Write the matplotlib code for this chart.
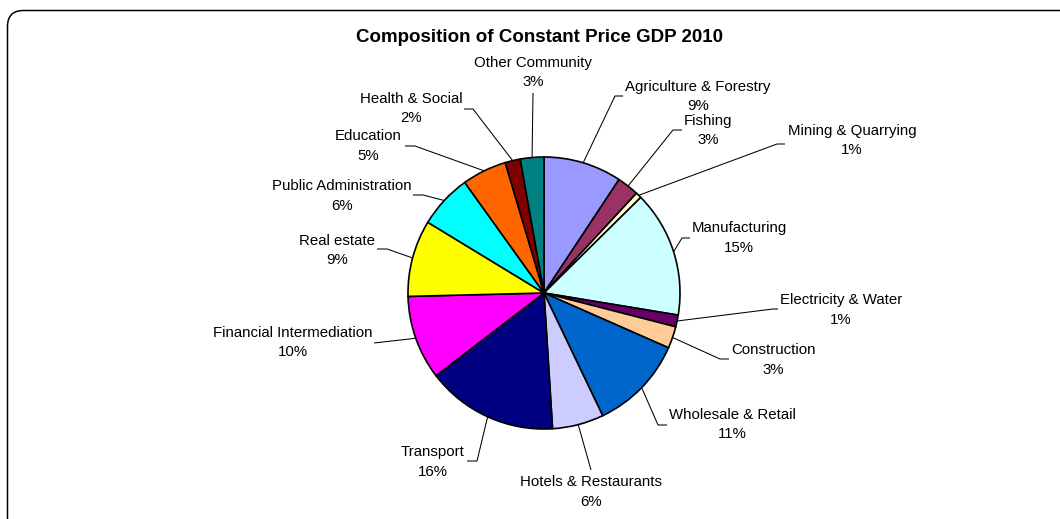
import matplotlib
matplotlib.use('Agg')
import matplotlib.pyplot as plt
from matplotlib.patches import FancyBboxPatch
import numpy as np

plt.rcParams['font.family'] = ['Liberation Sans', 'DejaVu Sans']

# sector shares of constant price GDP 2010 (percent)
sectors = ['Agriculture & Forestry', 'Fishing', 'Mining & Quarrying', 'Manufacturing',
           'Electricity & Water', 'Construction', 'Wholesale & Retail',
           'Hotels & Restaurants', 'Transport', 'Financial Intermediation',
           'Real estate', 'Public Administration', 'Education', 'Health & Social',
           'Other Community']
shares = [9.3, 2.6, 0.7, 15.0, 1.4, 2.6, 11.3, 6.1, 15.6, 10.0, 9.1, 6.4, 5.3, 1.8, 2.8]
colors = ['#9999FF', '#993366', '#FFFFCC', '#CCFFFF', '#660066', '#FFCC99', '#0066CC',
          '#CCCCFF', '#000080', '#FF00FF', '#FFFF00', '#00FFFF', '#FF6600', '#800000',
          '#008080']

W, H = 1060, 519
# label layout in pixels: text centre (x, y of first line), elbow point, end of leader
label_xy = [(698, 87), (708, 121), (852, 131), (739, 228), (841, 300), (773, 350),
            (732, 415), (591, 482), (433, 452), (293, 333), (337, 241), (342, 186),
            (368, 136), (411, 99), (533, 63)]
elbows = [(615, 96), (673, 130), (777, 144), (682, 238), (773, 309), (720, 359),
          (658, 425), (591, 470), (477, 461), (374, 343), (387, 249), (423, 195),
          (415, 146), (473, 109), (533, 93)]
ends = [(623, 96), (682, 130), (785, 144), (690, 238), (778, 309), (729, 359),
        (667, 425), (591, 470), (467, 461), (374, 343), (377, 249), (413, 195),
        (405, 146), (464, 109), (533, 93)]

cx, cy, r = 544, 293, 136

fig = plt.figure(figsize=(W / 100, H / 100), dpi=100)
ax = fig.add_axes([0, 0, 1, 1])

wedges, _ = ax.pie(shares, colors=colors, startangle=90, counterclock=False,
                   center=(cx, H - cy), radius=r,
                   wedgeprops=dict(edgecolor='black', linewidth=1.2))
ax.set_xlim(0, W)
ax.set_ylim(0, H)
ax.set_aspect('equal')
ax.axis('off')

total = sum(shares)
for w, name, v, (lx, ly), (ex, ey), (tx, ty) in zip(wedges, sectors, shares,
                                                     label_xy, elbows, ends):
    mid = np.deg2rad((w.theta1 + w.theta2) / 2)
    ax0 = cx + r * np.cos(mid)
    ay0 = (H - cy) + r * np.sin(mid)
    ax.plot([ax0, ex, tx], [ay0, H - ey, H - ty], color='black', lw=0.75,
            solid_capstyle='butt')
    ax.text(lx, H - ly, name, ha='center', va='center', fontsize=10.8)
    ax.text(lx, H - ly - 19.5, f'{round(v / total * 100):.0f}%', ha='center',
            va='center', fontsize=10.8)

ax.text(540, H - 37, 'Composition of Constant Price GDP 2010', ha='center',
        va='center', fontsize=13.5, fontweight='bold')

border = FancyBboxPatch((7.5, -30), 1100, H - 10.5 + 30,
                        boxstyle='round,pad=0,rounding_size=16',
                        facecolor='none', edgecolor='black', linewidth=1.1)
ax.add_patch(border)

fig.savefig('out.png', dpi=100)
